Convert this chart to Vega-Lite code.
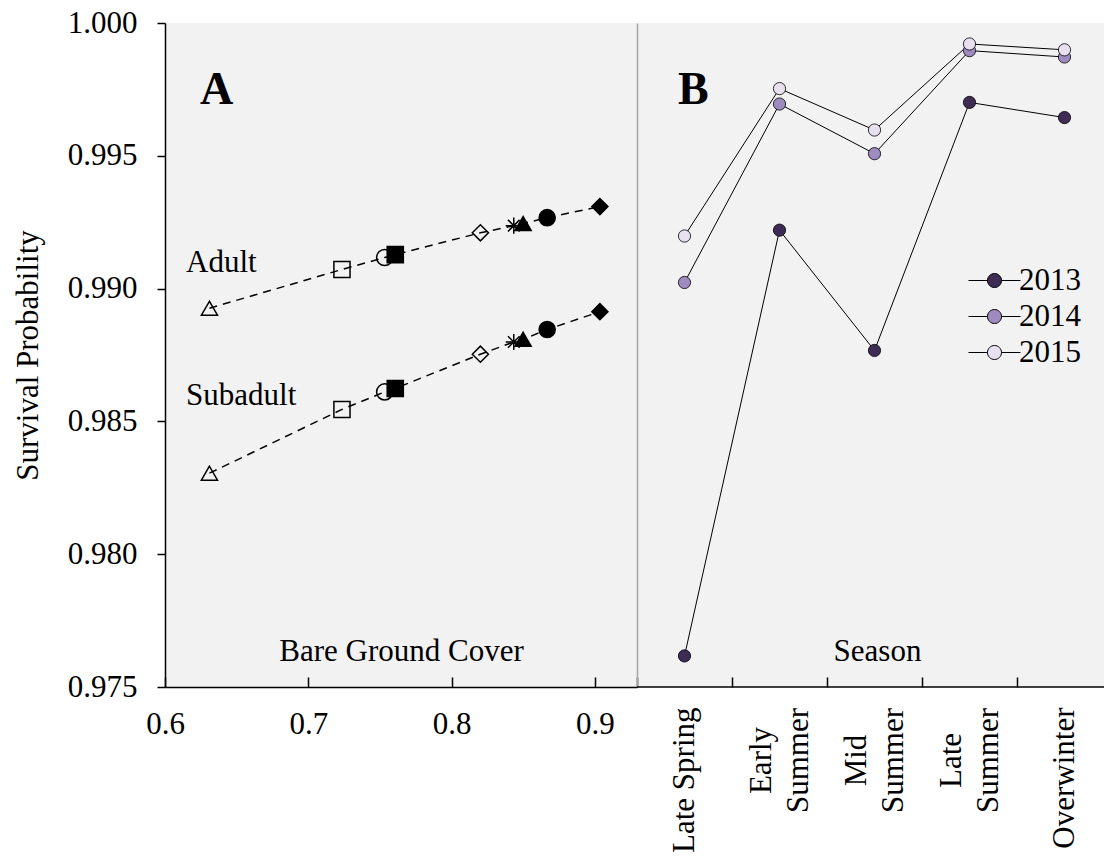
{
  "$schema": "https://vega.github.io/schema/vega-lite/v6.json",
  "background": "white",
  "padding": {"left": 12, "top": 7, "right": 0, "bottom": 0},
  "spacing": 0,
  "bounds": "flush",
  "config": {
    "font": "Liberation Serif",
    "view": {"stroke": null},
    "axis": {
      "labelFont": "Liberation Serif", "titleFont": "Liberation Serif",
      "labelFontSize": 31, "titleFontSize": 31, "titleFontWeight": "normal",
      "labelColor": "black", "titleColor": "black",
      "domainColor": "black", "tickColor": "black", "domainWidth": 1.5, "tickWidth": 1.5,
      "grid": false
    },
    "legend": {"labelFont": "Liberation Serif", "labelFontSize": 31, "labelColor": "black"}
  },
  "datasets": {
    "habitat": [
      {"stage": "Adult", "site": "S1", "bare": 0.631, "survival": 0.98926},
      {"stage": "Adult", "site": "S2", "bare": 0.7235, "survival": 0.99072},
      {"stage": "Adult", "site": "S3", "bare": 0.7533, "survival": 0.99117},
      {"stage": "Adult", "site": "S4", "bare": 0.7607, "survival": 0.99128},
      {"stage": "Adult", "site": "S5", "bare": 0.8201, "survival": 0.9921},
      {"stage": "Adult", "site": "S6", "bare": 0.8434, "survival": 0.99237},
      {"stage": "Adult", "site": "S7", "bare": 0.8499, "survival": 0.99245},
      {"stage": "Adult", "site": "S8", "bare": 0.8667, "survival": 0.99267},
      {"stage": "Adult", "site": "S9", "bare": 0.9035, "survival": 0.99309},
      {"stage": "Subadult", "site": "S1", "bare": 0.631, "survival": 0.98305},
      {"stage": "Subadult", "site": "S2", "bare": 0.7235, "survival": 0.98545},
      {"stage": "Subadult", "site": "S3", "bare": 0.7533, "survival": 0.98611},
      {"stage": "Subadult", "site": "S4", "bare": 0.7607, "survival": 0.98624},
      {"stage": "Subadult", "site": "S5", "bare": 0.8201, "survival": 0.98753},
      {"stage": "Subadult", "site": "S6", "bare": 0.8434, "survival": 0.98799},
      {"stage": "Subadult", "site": "S7", "bare": 0.8499, "survival": 0.98809},
      {"stage": "Subadult", "site": "S8", "bare": 0.8667, "survival": 0.98846},
      {"stage": "Subadult", "site": "S9", "bare": 0.9035, "survival": 0.98913}
    ],
    "seasonal": [
      {"year": "2013", "season": "Late Spring", "survival": 0.97617},
      {"year": "2013", "season": "Early Summer", "survival": 0.9922},
      {"year": "2013", "season": "Mid Summer", "survival": 0.98767},
      {"year": "2013", "season": "Late Summer", "survival": 0.99701},
      {"year": "2013", "season": "Overwinter", "survival": 0.99644},
      {"year": "2014", "season": "Late Spring", "survival": 0.99023},
      {"year": "2014", "season": "Early Summer", "survival": 0.99695},
      {"year": "2014", "season": "Mid Summer", "survival": 0.99508},
      {"year": "2014", "season": "Late Summer", "survival": 0.99896},
      {"year": "2014", "season": "Overwinter", "survival": 0.99872},
      {"year": "2015", "season": "Late Spring", "survival": 0.99198},
      {"year": "2015", "season": "Early Summer", "survival": 0.99753},
      {"year": "2015", "season": "Mid Summer", "survival": 0.99597},
      {"year": "2015", "season": "Late Summer", "survival": 0.99921},
      {"year": "2015", "season": "Overwinter", "survival": 0.99899}
    ]
  },
  "resolve": {"scale": {"fill": "independent", "shape": "independent", "x": "independent"}, "legend": {"fill": "independent", "shape": "independent"}},
  "hconcat": [
    {
      "width": 472,
      "height": 664,
      "view": {"fill": "#f2f2f2", "stroke": null},
      "encoding": {
        "x": {"type": "quantitative", "scale": {"domain": [0.6, 0.9294], "nice": false, "zero": false},
          "axis": {"values": [0.6, 0.7, 0.8, 0.9], "format": ".1f", "tickSize": -10, "labelPadding": 32, "labelFlush": false,
                   "title": "Bare Ground Cover", "titleY": -27, "titleBaseline": "alphabetic"}},
        "y": {"type": "quantitative", "scale": {"domain": [0.975, 1.0], "nice": false, "zero": false},
          "axis": {"values": [0.975, 0.98, 0.985, 0.99, 0.995, 1.0], "format": ".3f", "tickSize": 8, "labelPadding": 20, "labelFlush": false,
                   "title": "Survival Probability", "titlePadding": 23}}
      },
      "layer": [
        {
          "data": {"name": "habitat"},
          "mark": {"type": "line", "color": "black", "strokeWidth": 1.5, "strokeDash": [8, 6]},
          "encoding": {"x": {"field": "bare"}, "y": {"field": "survival"}, "detail": {"field": "stage"}}
        },
        {
          "data": {"name": "habitat"},
          "mark": {"type": "point", "stroke": "black", "strokeWidth": 1.5, "size": 260, "opacity": 1},
          "encoding": {
            "x": {"field": "bare"}, "y": {"field": "survival"},
            "shape": {"field": "site", "type": "nominal", "legend": null,
              "scale": {"domain": ["S1", "S2", "S3", "S4", "S5", "S6", "S7", "S8", "S9"],
                "range": ["triangle-up", "square", "circle", "square", "diamond",
                  "M-1,0H1M0,-1V1M-0.72,-0.72L0.72,0.72M-0.72,0.72L0.72,-0.72",
                  "triangle-up", "circle", "diamond"]}},
            "fill": {"field": "site", "type": "nominal", "legend": null,
              "scale": {"domain": ["S1", "S2", "S3", "S4", "S5", "S6", "S7", "S8", "S9"],
                "range": ["transparent", "transparent", "transparent", "black", "transparent", "transparent", "black", "black", "black"]}}
          }
        },
        {
          "data": {"values": [{}]},
          "mark": {"type": "text", "text": "A", "align": "left", "baseline": "alphabetic", "fontSize": 46, "fontWeight": "bold", "font": "Liberation Serif", "color": "black"},
          "encoding": {"x": {"datum": 0.6244}, "y": {"datum": 0.99695}}
        },
        {
          "data": {"values": [{}]},
          "mark": {"type": "text", "text": "Adult", "align": "left", "baseline": "alphabetic", "fontSize": 31, "font": "Liberation Serif", "color": "black"},
          "encoding": {"x": {"datum": 0.6147}, "y": {"datum": 0.99062}}
        },
        {
          "data": {"values": [{}]},
          "mark": {"type": "text", "text": "Subadult", "align": "left", "baseline": "alphabetic", "fontSize": 31, "font": "Liberation Serif", "color": "black"},
          "encoding": {"x": {"datum": 0.6147}, "y": {"datum": 0.98562}}
        }
      ]
    },
    {
      "width": 467,
      "height": 664,
      "view": {"fill": "#f2f2f2", "stroke": null},
      "encoding": {
        "x": {"type": "nominal",
          "sort": ["Late Spring", "Early Summer", "Mid Summer", "Late Summer", "Overwinter"],
          "scale": {"domain": ["Late Spring", "Early Summer", "Mid Summer", "Late Summer", "Overwinter"], "range": [0, 475], "paddingInner": 0, "paddingOuter": 0},
          "axis": {"tickOffset": -47.5,
                   "labelOffset": {"condition": {"test": "indexof(datum.label, ' ') > 0 && datum.label != 'Late Spring'", "value": 29}, "value": 47.5},
                   "labelAlign": {"condition": {"test": "indexof(datum.label, ' ') > 0 && datum.label != 'Late Spring'", "value": "center"}, "value": "right"},
                   "labelPadding": {"condition": {"test": "indexof(datum.label, ' ') > 0 && datum.label != 'Late Spring'", "value": 83}, "value": 30},
                   "labelAngle": -90, "tickSize": -10, "domain": false,
                   "labelExpr": "datum.label == 'Late Spring' || datum.label == 'Overwinter' ? datum.label : split(datum.label, ' ')",
                   "labelLineHeight": 37,
                   "title": "Season", "titleY": -27, "titleX": 240, "titleBaseline": "alphabetic"}},
        "y": {"type": "quantitative", "scale": {"domain": [0.975, 1.0], "nice": false, "zero": false},
          "axis": {"labels": false, "ticks": false, "title": null, "domainColor": "#a6a6a6", "domainWidth": 1.5}}
      },
      "layer": [
        {
          "data": {"values": [{}]},
          "mark": {"type": "rule", "color": "black", "strokeWidth": 1.5},
          "encoding": {"y": {"datum": 0.975}}
        },
        {
          "data": {"name": "seasonal"},
          "mark": {"type": "line", "color": "black", "strokeWidth": 1},
          "encoding": {"x": {"field": "season"}, "y": {"field": "survival"}, "detail": {"field": "year"}, "order": {"value": null}}
        },
        {
          "data": {"name": "seasonal"},
          "mark": {"type": "circle", "stroke": "black", "strokeWidth": 0.8, "size": 150, "opacity": 1},
          "encoding": {
            "x": {"field": "season"}, "y": {"field": "survival"},
            "fill": {"field": "year", "type": "nominal",
              "scale": {"domain": ["2013", "2014", "2015"], "range": ["#3e2c55", "#a08bc0", "#e6e0ef"]},
              "legend": {"orient": "none", "legendX": 342, "legendY": 242, "title": null, "padding": 0,
                "symbolType": "M-2,0H-0.54M0.54,0H2M-0.54,0A0.54,0.54,0,1,1,0.54,0A0.54,0.54,0,1,1,-0.54,0Z",
                "symbolSize": 676, "symbolStrokeColor": "black", "symbolStrokeWidth": 1, "symbolOpacity": 1,
                "labelOffset": 9, "rowPadding": 4}}
          }
        },
        {
          "data": {"values": [{}]},
          "mark": {"type": "text", "text": "B", "align": "left", "baseline": "alphabetic", "fontSize": 46, "fontWeight": "bold", "font": "Liberation Serif", "color": "black", "dx": -6.5},
          "encoding": {"x": {"datum": "Late Spring"}, "y": {"datum": 0.99695}}
        }
      ]
    }
  ]
}
